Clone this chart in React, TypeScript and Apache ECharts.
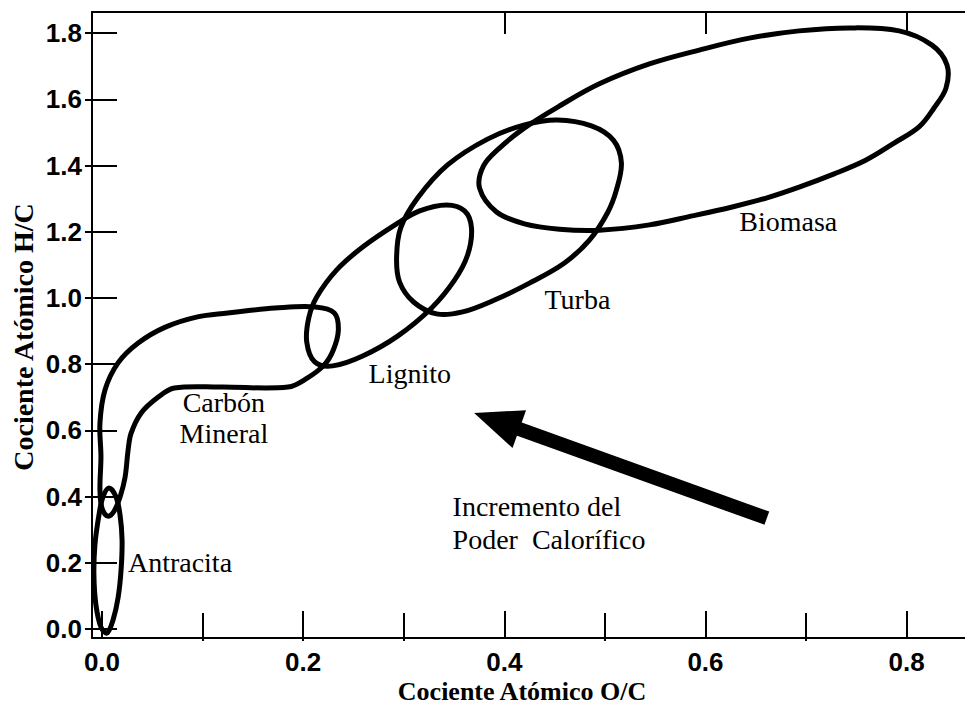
import React, { useEffect, useRef } from "react";
import * as echarts from "echarts";

// Axis ticks and labels
const xLabelTicks = [0, 0.2, 0.4, 0.6, 0.8];
const xMinorTicks = [0.1, 0.3, 0.5, 0.7];
const xTopLongTicks = [0.4, 0.6, 0.8];
const xTopShortTicks = [0.1, 0.2, 0.3, 0.5, 0.7];
const yLabelTicks = [0, 0.2, 0.4, 0.6, 0.8, 1.0, 1.2, 1.4, 1.6, 1.8];

// Region outlines: [O/C, H/C]
const antracita = [
  [0.007, 0.426], [0.014, 0.399], [0.018, 0.344], [0.02, 0.269], [0.019, 0.178],
  [0.016, 0.094], [0.011, 0.027], [0.005, -0.012], [-0.001, 0.006], [-0.006, 0.073],
  [-0.008, 0.163], [-0.007, 0.254], [-0.003, 0.344], [0.001, 0.399],
];
const carbonMineral = [
  [0.006, 0.341], [0.0, 0.366], [-0.002, 0.42], [-0.001, 0.52], [-0.002, 0.622],
  [0.003, 0.722], [0.016, 0.804], [0.036, 0.864], [0.063, 0.912], [0.095, 0.943],
  [0.125, 0.955], [0.142, 0.961], [0.172, 0.97], [0.212, 0.973], [0.231, 0.955],
  [0.235, 0.903], [0.23, 0.843], [0.221, 0.798], [0.204, 0.758], [0.185, 0.731],
  [0.118, 0.731], [0.072, 0.728], [0.056, 0.701], [0.039, 0.653], [0.029, 0.592],
  [0.026, 0.541], [0.023, 0.459], [0.018, 0.399], [0.012, 0.356],
];
const lignito = [
  [0.2036, 0.867], [0.2056, 0.94], [0.2135, 1.003], [0.2334, 1.085], [0.2592, 1.154],
  [0.2929, 1.224], [0.3158, 1.263], [0.3426, 1.281], [0.3605, 1.263], [0.3674, 1.211],
  [0.3635, 1.13], [0.3505, 1.054], [0.3277, 0.97], [0.2939, 0.885], [0.2592, 0.825],
  [0.2294, 0.795], [0.2115, 0.807],
];
const turba = [
  [0.2929, 1.121], [0.2969, 1.211], [0.3138, 1.302], [0.3436, 1.402], [0.3833, 1.48],
  [0.4201, 1.523], [0.4528, 1.538], [0.4866, 1.52], [0.5084, 1.477], [0.5164, 1.408],
  [0.5114, 1.326], [0.5025, 1.257], [0.4846, 1.175], [0.4598, 1.106], [0.425, 1.045],
  [0.3903, 0.994], [0.3585, 0.958], [0.3327, 0.952], [0.3098, 0.988], [0.2959, 1.048],
];
const biomasa = [
  [0.3754, 1.332], [0.3793, 1.399], [0.3952, 1.453], [0.4201, 1.514], [0.4548, 1.58],
  [0.4945, 1.647], [0.5442, 1.707], [0.5938, 1.749], [0.6435, 1.785], [0.6931, 1.807],
  [0.7428, 1.816], [0.7925, 1.807], [0.8252, 1.764], [0.8401, 1.704], [0.8391, 1.634],
  [0.8272, 1.574], [0.8123, 1.517], [0.7875, 1.468], [0.7597, 1.417], [0.7279, 1.375],
  [0.6931, 1.335], [0.6604, 1.302], [0.6266, 1.275], [0.5869, 1.248], [0.5442, 1.221],
  [0.4945, 1.205], [0.4548, 1.208], [0.4201, 1.224], [0.3923, 1.26],
];

// Arrow (tail -> tip) in data units
const arrowTail = [0.661, 0.335];
const arrowTip = [0.37, 0.653];

// Annotation anchors in data units
const annotationTexts = ["Biomasa", "Turba", "Lignito", "Carbón", "Mineral", "Antracita", "Incremento del", "Poder  Calorífico"];
const annotationX = [0.6336, 0.4399, 0.2651, 0.1212, 0.1212, 0.0258, 0.3486, 0.3486];
const annotationY = [1.23, 0.997, 0.773, 0.684, 0.592, 0.2, 0.369, 0.272];
const annotationAlign = ["left", "left", "left", "center", "center", "left", "left", "left"];

const X_MIN = -0.0099;
const X_MAX = 0.858;
const Y_MIN = -0.027;
const Y_MAX = 1.864;

const SERIF = '"Liberation Serif", "Times New Roman", Times, serif';
const SANS = '"Liberation Sans", Arial, Helvetica, sans-serif';

export default function App() {
  const ref = useRef<HTMLDivElement>(null);

  useEffect(() => {
    if (!ref.current) return;
    const chart = echarts.init(ref.current, undefined, { renderer: "svg" });

    const axisLineStyle = { color: "#000", width: 2 };
    const tickLine = { color: "#000", width: 2 };
    const labelStyle = {
      color: "#000",
      fontSize: 26,
      lineHeight: 22,
      fontWeight: "bold" as const,
      fontFamily: SANS,
    };

    const shapes = [antracita, carbonMineral, lignito, turba, biomasa];

    const shapeSeries = shapes.map((pts) => ({
      type: "custom",
      coordinateSystem: "cartesian2d",
      xAxisIndex: 0,
      yAxisIndex: 0,
      silent: true,
      clip: false,
      data: [pts[0]],
      renderItem: (_params: any, api: any) => ({
        type: "polygon",
        shape: {
          points: pts.map((p) => api.coord(p)),
          smooth: 0.35,
        },
        style: { fill: "none", stroke: "#000", lineWidth: 5 },
      }),
    }));

    const arrowSeries = {
      type: "custom",
      coordinateSystem: "cartesian2d",
      xAxisIndex: 0,
      yAxisIndex: 0,
      silent: true,
      data: [arrowTail],
      renderItem: (_params: any, api: any) => {
        const t = api.coord(arrowTail);
        const h = api.coord(arrowTip);
        const dx = t[0] - h[0];
        const dy = t[1] - h[1];
        const len = Math.sqrt(dx * dx + dy * dy);
        const ux = dx / len;
        const uy = dy / len;
        const headLen = 48;
        const halfW = 20;
        const bx = h[0] + ux * headLen;
        const by = h[1] + uy * headLen;
        return {
          type: "group",
          children: [
            {
              type: "line",
              shape: { x1: t[0], y1: t[1], x2: bx - ux * 2, y2: by - uy * 2 },
              style: { stroke: "#000", lineWidth: 14, lineCap: "butt" },
            },
            {
              type: "polygon",
              shape: {
                points: [
                  [h[0], h[1]],
                  [bx - uy * halfW, by + ux * halfW],
                  [bx + uy * halfW, by - ux * halfW],
                ],
              },
              style: { fill: "#000" },
            },
          ],
        };
      },
    };

    const textSeries = {
      type: "custom",
      coordinateSystem: "cartesian2d",
      xAxisIndex: 0,
      yAxisIndex: 0,
      silent: true,
      clip: false,
      data: annotationX.map((x, i) => [x, annotationY[i]]),
      renderItem: (params: any, api: any) => {
        const i = params.dataIndex;
        const p = api.coord([annotationX[i], annotationY[i]]);
        return {
          type: "text",
          x: p[0],
          y: p[1],
          style: {
            text: annotationTexts[i],
            fill: "#000",
            fontSize: 28,
            fontFamily: SERIF,
            align: annotationAlign[i],
            verticalAlign: "middle",
          },
        };
      },
    };

    chart.setOption({
      animation: false,
      backgroundColor: "#fff",
      grid: { left: 92, top: 12, width: 874, height: 626, containLabel: false },
      xAxis: [
        {
          type: "value",
          position: "bottom",
          min: X_MIN,
          max: X_MAX,
          axisLine: { show: true, onZero: false, lineStyle: axisLineStyle },
          axisTick: { show: true, inside: true, length: 27, customValues: xLabelTicks, lineStyle: tickLine },
          axisLabel: {
            show: true,
            customValues: xLabelTicks,
            margin: 13,
            formatter: (v: number) => v.toFixed(1),
            ...labelStyle,
          },
          splitLine: { show: false },
        },
        {
          type: "value",
          position: "bottom",
          min: X_MIN,
          max: X_MAX,
          axisLine: { show: false },
          axisTick: { show: true, inside: true, length: 16, customValues: xMinorTicks, lineStyle: tickLine },
          axisLabel: { show: false },
          splitLine: { show: false },
        },
        {
          type: "value",
          position: "top",
          min: X_MIN,
          max: X_MAX,
          axisLine: { show: true, onZero: false, lineStyle: axisLineStyle },
          axisTick: { show: true, inside: true, length: 22, customValues: xTopLongTicks, lineStyle: tickLine },
          axisLabel: { show: false },
          splitLine: { show: false },
        },
        {
          type: "value",
          position: "top",
          min: X_MIN,
          max: X_MAX,
          axisLine: { show: false },
          axisTick: { show: true, inside: true, length: 12, customValues: xTopShortTicks, lineStyle: tickLine },
          axisLabel: { show: false },
          splitLine: { show: false },
        },
      ],
      yAxis: [
        {
          type: "value",
          position: "left",
          min: Y_MIN,
          max: Y_MAX,
          axisLine: { show: true, onZero: false, lineStyle: axisLineStyle },
          axisTick: { show: true, inside: true, length: 25, customValues: yLabelTicks, lineStyle: tickLine },
          axisLabel: {
            show: true,
            customValues: yLabelTicks,
            margin: 10,
            formatter: (v: number) => v.toFixed(1),
            ...labelStyle,
          },
          splitLine: { show: false },
        },
        {
          type: "value",
          position: "right",
          min: Y_MIN,
          max: Y_MAX,
          axisLine: { show: false },
          axisTick: { show: true, inside: true, length: 17, customValues: yLabelTicks, lineStyle: tickLine },
          axisLabel: { show: false },
          splitLine: { show: false },
        },
      ],
      graphic: [
        {
          type: "text",
          x: 23,
          y: 337,
          rotation: Math.PI / 2,
          style: {
            text: "Cociente Atómico H/C",
            fill: "#000",
            fontSize: 28,
            fontWeight: "bold",
            fontFamily: SERIF,
            align: "center",
            verticalAlign: "middle",
          },
        },
        {
          type: "text",
          x: 522,
          y: 691,
          style: {
            text: "Cociente Atómico O/C",
            fill: "#000",
            fontSize: 26,
            lineHeight: 20,
            fontWeight: "bold",
            fontFamily: SERIF,
            align: "center",
            verticalAlign: "middle",
          },
        },
      ],
      series: [...shapeSeries, arrowSeries, textSeries],
    });

    return () => chart.dispose();
  }, []);

  return (
    <div
      ref={ref}
      style={{ position: "fixed", left: 0, top: 0, width: 965, height: 706, background: "#fff" }}
    />
  );
}
